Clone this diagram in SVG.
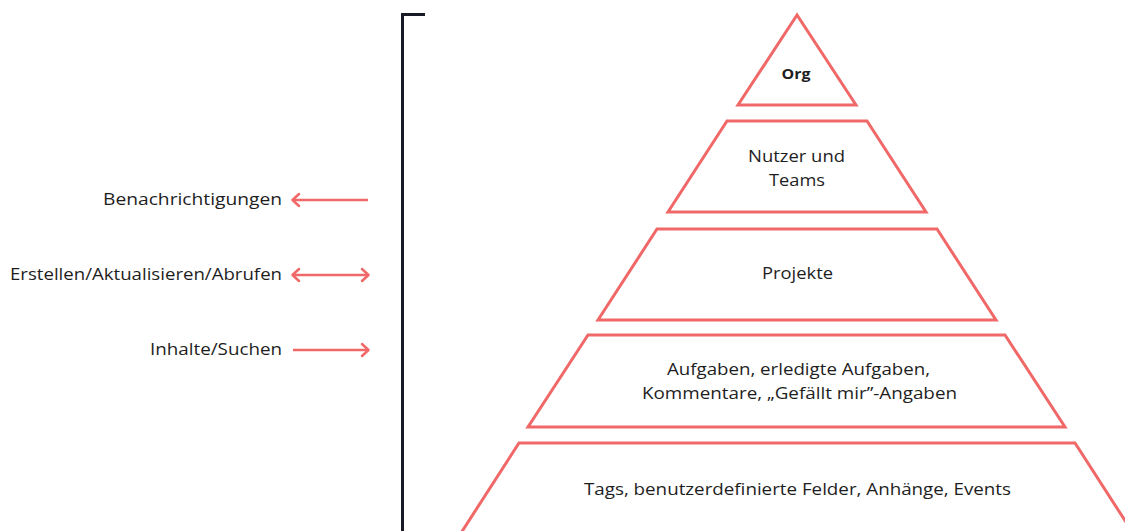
<svg xmlns="http://www.w3.org/2000/svg" width="1125" height="531" viewBox="0 0 1125 531">
<defs>
<style>
.t{font-family:"Open Sans","Noto Sans","Liberation Sans",sans-serif;font-size:16px;font-weight:500;fill:#1e1e1e;}
.c{text-anchor:middle;}
.r{text-anchor:end;}
.shape{fill:#fff;stroke:#f06868;stroke-width:3;stroke-linejoin:miter;}
.arr{stroke:#f06868;stroke-width:2.5;fill:none;}
.head{stroke:#f06868;stroke-width:2.5;fill:none;stroke-linecap:round;stroke-linejoin:round;}
</style>
</defs>
<rect width="1125" height="531" fill="#fff"/>
<g id="bracket">
<path d="M402.5 531 V14.5 H425" fill="none" stroke="#161b26" stroke-width="3"/>
</g>
<g id="org">
<polygon class="shape" points="797,15 738,105 856,105"/>
<text class="t c" x="796" y="79" style="font-weight:bold;font-size:13.5px" textLength="29" lengthAdjust="spacingAndGlyphs">Org</text>
</g>
<g id="nutzer">
<polygon class="shape" points="727,121 867,121 926,212 668,212"/>
<text class="t c" x="796.5" y="162" textLength="97" lengthAdjust="spacingAndGlyphs">Nutzer und</text>
<text class="t c" x="797" y="186" textLength="56" lengthAdjust="spacingAndGlyphs">Teams</text>
</g>
<g id="projekte">
<polygon class="shape" points="657,229 937,229 996,320 598,320"/>
<text class="t c" x="797.5" y="279" textLength="71" lengthAdjust="spacingAndGlyphs">Projekte</text>
</g>
<g id="aufgaben">
<polygon class="shape" points="588,335 1005,335 1065,427 528,427"/>
<text class="t c" x="798.5" y="375" textLength="263" lengthAdjust="spacingAndGlyphs">Aufgaben, erledigte Aufgaben,</text>
<text class="t c" x="799.5" y="399" textLength="315" lengthAdjust="spacingAndGlyphs">Kommentare, „Gefällt mir”-Angaben</text>
</g>
<g id="tags">
<polygon class="shape" points="519,443 1075,443 1133,533 461,533"/>
<text class="t c" x="797.5" y="495" textLength="427" lengthAdjust="spacingAndGlyphs">Tags, benutzerdefinierte Felder, Anhänge, Events</text>
</g>
<g id="labels">
<text class="t r" x="282" y="205" textLength="179" lengthAdjust="spacingAndGlyphs">Benachrichtigungen</text>
<text class="t r" x="282" y="280" textLength="272" lengthAdjust="spacingAndGlyphs">Erstellen/Aktualisieren/Abrufen</text>
<text class="t r" x="282" y="355" textLength="132" lengthAdjust="spacingAndGlyphs">Inhalte/Suchen</text>
</g>
<g id="connectors">
<line class="arr" x1="293" y1="200" x2="368" y2="200"/>
<polyline class="head" points="299,194 292.5,200 299,206"/>
<line class="arr" x1="293" y1="275" x2="368" y2="275"/>
<polyline class="head" points="299,269 292.5,275 299,281"/>
<polyline class="head" points="362,269 368.5,275 362,281"/>
<line class="arr" x1="293" y1="350" x2="368" y2="350"/>
<polyline class="head" points="362,344 368.5,350 362,356"/>
</g>
</svg>
